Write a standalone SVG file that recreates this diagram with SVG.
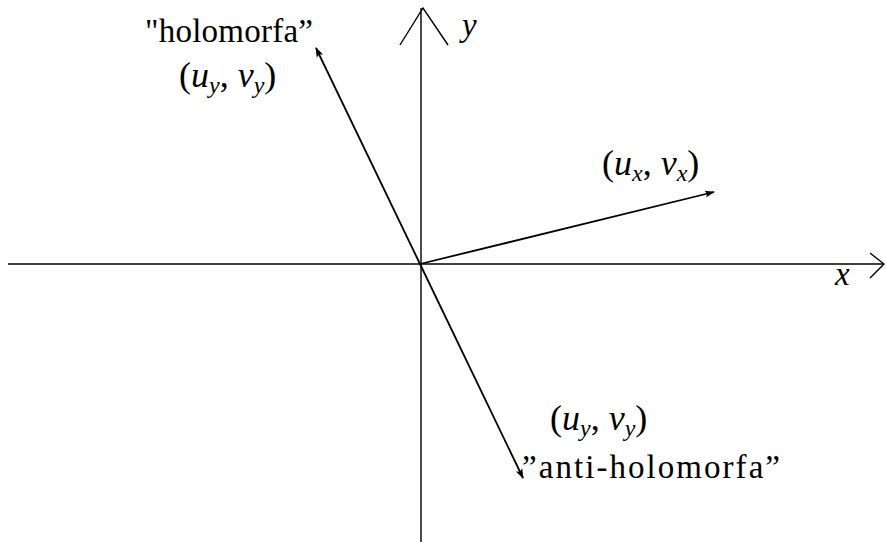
<svg xmlns="http://www.w3.org/2000/svg" width="886" height="542" viewBox="0 0 886 542">
<defs>
<style>
.ax{stroke:#000;stroke-width:1.4;fill:none}
.vec{stroke:#000;stroke-width:1.8;fill:none}
.t{font-family:"Liberation Serif","DejaVu Serif",serif;font-size:33px;fill:#000}
.mt{font-size:36px}
.m{font-style:italic}
.s{font-size:24px;font-style:italic}
</style>
<marker id="ah" viewBox="0 0 10 10" refX="9" refY="5" markerWidth="10" markerHeight="10" markerUnits="userSpaceOnUse" orient="auto">
<path d="M0,1.5 L10,5 L0,8.5 L2,5 Z" fill="#000"/>
</marker>
</defs>
<rect width="886" height="542" fill="#fff"/>
<g id="connectors">
<g id="x-axis">
<line class="ax" x1="8" y1="264" x2="884" y2="264"/>
<polyline class="ax" points="870,253 884,264 870,278"/>
</g>
<g id="y-axis">
<line class="ax" x1="421" y1="8" x2="421" y2="542"/>
<polyline class="ax" points="400,45 423,8 448,45"/>
</g>
<line id="v-holo" class="vec" x1="420" y1="264" x2="316" y2="48" marker-end="url(#ah)"/>
<line id="v-anti" class="vec" x1="420" y1="264" x2="523" y2="478" marker-end="url(#ah)"/>
<line id="v-x" class="vec" x1="420" y1="264" x2="714" y2="192" marker-end="url(#ah)"/>
</g>
<g id="label-y"><text class="t m" x="462" y="36">y</text></g>
<g id="label-x"><text class="t m" x="835" y="285">x</text></g>
<g id="label-holo">
<text class="t" x="145" y="42" textLength="168">"holomorfa”</text>
<text class="t mt" x="179" y="87"><tspan>(</tspan><tspan class="m">u</tspan><tspan class="s" dy="6">y</tspan><tspan dy="-6">, </tspan><tspan class="m">v</tspan><tspan class="s" dy="6">y</tspan><tspan dy="-6">)</tspan></text>
</g>
<g id="label-ux">
<text class="t mt" x="602" y="175"><tspan>(</tspan><tspan class="m">u</tspan><tspan class="s" dy="6">x</tspan><tspan dy="-6">, </tspan><tspan class="m">v</tspan><tspan class="s" dy="6">x</tspan><tspan dy="-6">)</tspan></text>
</g>
<g id="label-anti">
<text class="t mt" x="550" y="430"><tspan>(</tspan><tspan class="m">u</tspan><tspan class="s" dy="6">y</tspan><tspan dy="-6">, </tspan><tspan class="m">v</tspan><tspan class="s" dy="6">y</tspan><tspan dy="-6">)</tspan></text>
<text class="t" x="522" y="478" textLength="258">”anti-holomorfa”</text>
</g>
</svg>
